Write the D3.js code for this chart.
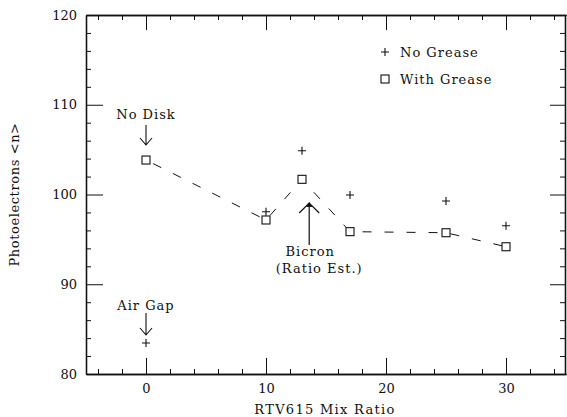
<!DOCTYPE html>
<html>
<head>
<meta charset="utf-8">
<script src="https://cdn.jsdelivr.net/npm/d3@7"></script>
<style>
  html, body { margin: 0; padding: 0; background: #fff; }
  svg { display: block; }
  text { font-family: "DejaVu Serif", serif; fill: #111; }
</style>
</head>
<body>
<svg id="chart" width="567" height="417"></svg>
<script>
// Photoelectron yield vs. RTV615 mix ratio
const mixRatios      = [0, 10, 13, 17, 25, 30];
const withGrease     = [103.84, 97.16, 101.69, 95.86, 95.74, 94.18];
const noGreaseRatios = [0, 10, 13, 17, 25, 30];
const noGrease       = [83.45, 98.08, 104.88, 99.94, 99.28, 96.52];

const xMajorTicks = [0, 10, 20, 30];
const yMajorTicks = [80, 90, 100, 110, 120];
const xMinorTicks = [-4, -2, 2, 4, 6, 8, 12, 14, 16, 18, 22, 24, 26, 28, 32, 34];
const yMinorTicks = [82, 84, 86, 88, 92, 94, 96, 98, 102, 104, 106, 108, 112, 114, 116, 118];

const legendLabels = ["No Grease", "With Grease"];
const xTitle = "RTV615 Mix Ratio";
const yTitle = "Photoelectrons <n>";

const svg = d3.select("#chart");
const x = d3.scaleLinear().domain([-5, 35]).range([86, 566]);
const y = d3.scaleLinear().domain([80, 120]).range([374, 15]);

const ink = "#111";
const fontSize = 13;

// frame + ticks
function axisGroup(axis, tx, ty) {
  const g = svg.append("g").attr("transform", `translate(${tx},${ty})`).call(axis);
  g.selectAll("path.domain").attr("stroke", ink).attr("stroke-width", 1.3);
  g.selectAll(".tick line").attr("stroke", ink).attr("stroke-width", 1);
  g.selectAll(".tick text").attr("font-family", "DejaVu Serif").attr("font-size", fontSize).attr("fill", ink);
  return g;
}
const fmt = d3.format("d");

// bottom
axisGroup(d3.axisBottom(x).tickValues(xMajorTicks).tickFormat(fmt).tickSizeInner(-16).tickSizeOuter(0).tickPadding(10), 0, y(80));
axisGroup(d3.axisBottom(x).tickValues(xMinorTicks).tickFormat("").tickSizeInner(-5).tickSizeOuter(0), 0, y(80));
// top
axisGroup(d3.axisTop(x).tickValues(xMajorTicks).tickFormat("").tickSizeInner(-15).tickSizeOuter(0), 0, y(120));
axisGroup(d3.axisTop(x).tickValues(xMinorTicks).tickFormat("").tickSizeInner(-5).tickSizeOuter(0), 0, y(120));
// left
axisGroup(d3.axisLeft(y).tickValues(yMajorTicks).tickFormat(fmt).tickSizeInner(-17).tickSizeOuter(0).tickPadding(9), x(-5), 0);
axisGroup(d3.axisLeft(y).tickValues(yMinorTicks).tickFormat("").tickSizeInner(-5).tickSizeOuter(0), x(-5), 0);
// right
axisGroup(d3.axisRight(y).tickValues(yMajorTicks).tickFormat("").tickSizeInner(-15).tickSizeOuter(0), x(35) - 1, 0);
axisGroup(d3.axisRight(y).tickValues(yMinorTicks).tickFormat("").tickSizeInner(-5).tickSizeOuter(0), x(35) - 1, 0);

// axis titles
svg.append("text")
  .attr("x", (x(-5) + x(35)) / 2 - 1).attr("y", 414)
  .attr("text-anchor", "middle").attr("font-size", fontSize).attr("letter-spacing", 1.3)
  .text(xTitle);
svg.append("text")
  .attr("transform", `translate(19,${(y(80) + y(120)) / 2}) rotate(-90)`)
  .attr("text-anchor", "middle").attr("font-size", fontSize).attr("letter-spacing", 0.6)
  .text(yTitle);

// dashed trend through the greased points
const line = d3.line().x((d, i) => x(mixRatios[i])).y(d => y(d));
svg.append("path")
  .datum(withGrease)
  .attr("d", line)
  .attr("fill", "none").attr("stroke", ink).attr("stroke-width", 1)
  .attr("stroke-dasharray", "9,13").attr("stroke-dashoffset", -8);

// markers
const half = 4;
function plus(g, cx, cy) {
  g.append("path")
    .attr("d", `M${cx - half},${cy}H${cx + half}M${cx},${cy - half}V${cy + half}`)
    .attr("stroke", ink).attr("stroke-width", 1.1).attr("fill", "none");
}
function square(g, cx, cy) {
  g.append("rect")
    .attr("x", cx - half).attr("y", cy - half).attr("width", 2 * half).attr("height", 2 * half)
    .attr("fill", "#fff").attr("stroke", ink).attr("stroke-width", 1.1);
}
const marks = svg.append("g");
withGrease.forEach((v, i) => square(marks, x(mixRatios[i]), y(v)));
noGrease.forEach((v, i) => plus(marks, x(noGreaseRatios[i]), y(v)));

// legend
const lg = svg.append("g");
plus(lg, 385, 52);
square(lg, 385, 79);
lg.append("text").attr("x", 400).attr("y", 57).attr("font-size", fontSize).attr("letter-spacing", 1).text(legendLabels[0]);
lg.append("text").attr("x", 400).attr("y", 84).attr("font-size", fontSize).attr("letter-spacing", 1).text(legendLabels[1]);

// annotations
function arrowDown(xp, y0, y1) {
  svg.append("path")
    .attr("d", `M${xp},${y0}V${y1}M${xp - 6},${y1 - 7}L${xp},${y1}L${xp + 6},${y1 - 7}`)
    .attr("stroke", ink).attr("stroke-width", 1.1).attr("fill", "none");
}
svg.append("text").attr("x", x(0)).attr("y", 119).attr("text-anchor", "middle")
  .attr("font-size", fontSize).attr("letter-spacing", 1).text("No Disk");
arrowDown(x(0), 125, 145);
svg.append("text").attr("x", x(0)).attr("y", 310).attr("text-anchor", "middle")
  .attr("font-size", fontSize).attr("letter-spacing", 1).text("Air Gap");
arrowDown(x(0), 313, 335);

// Bicron marker arrow (pointing up)
const bx = x(13.6);
svg.append("path")
  .attr("d", `M${bx},245V203M${bx - 10},213L${bx},203L${bx + 10},213`)
  .attr("stroke", ink).attr("stroke-width", 1.2).attr("fill", "none");
svg.append("path")
  .attr("d", `M${bx - 3},207L${bx},202L${bx + 3},207Z`)
  .attr("fill", ink);
svg.append("text").attr("x", bx + 1).attr("y", 256).attr("text-anchor", "middle")
  .attr("font-size", fontSize).attr("letter-spacing", 1).text("Bicron");
svg.append("text").attr("x", bx + 10).attr("y", 273).attr("text-anchor", "middle")
  .attr("font-size", fontSize).attr("letter-spacing", 1).text("(Ratio Est.)");
</script>
</body>
</html>
